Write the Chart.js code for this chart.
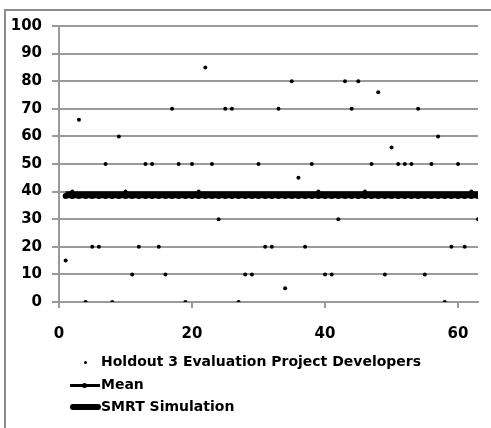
<!DOCTYPE html>
<html>
<head>
<meta charset="utf-8">
<script src="https://cdn.jsdelivr.net/npm/chart.js@4.4.1/dist/chart.umd.min.js"></script>
<style>
  html, body { margin: 0; padding: 0; background: #fff; }
  #wrap { position: relative; width: 491px; height: 428px; overflow: hidden; }
  #frame { position: absolute; left: 4px; top: 9px; width: 500px; height: 440px;
           border-left: 2px solid #8c8c8c; border-top: 2px solid #8c8c8c; }
  #chart { position: absolute; left: 0; top: 0; }
  #legend { position: absolute; left: 0; top: 0; font: bold 14px "DejaVu Sans"; color: #000; }
  .row { position: absolute; left: 68px; height: 20px; width: 400px; }
  .row span.txt { position: absolute; left: 33px; top: 1px; white-space: nowrap; }
  .sym { position: absolute; background: #000; }
</style>
</head>
<body>
<div id="wrap">
  <div id="frame"></div>
  <canvas id="chart" width="491" height="428"></canvas>
  <div id="legend">
    <div class="row" style="top:352px">
      <div class="sym" style="left:16px;top:9px;width:3px;height:3px;border-radius:2px"></div>
      <span class="txt">Holdout 3 Evaluation Project Developers</span>
    </div>
    <div class="row" style="top:375px">
      <div class="sym" style="left:2px;top:9px;width:30px;height:3px"></div>
      <div class="sym" style="left:14px;top:8px;width:5px;height:5px;border-radius:3px"></div>
      <span class="txt">Mean</span>
    </div>
    <div class="row" style="top:397px">
      <div class="sym" style="left:2px;top:7px;width:31px;height:6px;border-radius:3px"></div>
      <span class="txt">SMRT Simulation</span>
    </div>
  </div>
</div>
<script>
// developer number on the x axis
const developerIds = [1, 2, 3, 4, 5, 6, 7, 8, 9, 10, 11, 12, 13, 14, 15, 16, 17, 18, 19, 20,
    21, 22, 23, 24, 25, 26, 27, 28, 29, 30, 31, 32, 33, 34, 35, 36, 37, 38, 39, 40,
    41, 42, 43, 44, 45, 46, 47, 48, 49, 50, 51, 52, 53, 54, 55, 56, 57, 58, 59, 60,
    61, 62, 63];

// Holdout 3 evaluation, one value per developer
const holdoutValues = [15, 40, 66, 0, 20, 20, 50, 0, 60, 40, 10, 20, 50, 50, 20, 10, 70, 50, 0, 50,
    40, 85, 50, 30, 70, 70, 0, 10, 10, 50, 20, 20, 70, 5, 80, 45, 20, 50, 40, 10,
    10, 30, 80, 70, 80, 40, 50, 76, 10, 56, 50, 50, 50, 70, 10, 50, 60, 0, 20, 50,
    20, 40, 30];

const meanValues = [38.4, 38.4, 38.4, 38.4, 38.4, 38.4, 38.4, 38.4, 38.4, 38.4, 38.4, 38.4, 38.4, 38.4, 38.4, 38.4, 38.4, 38.4, 38.4, 38.4,
    38.4, 38.4, 38.4, 38.4, 38.4, 38.4, 38.4, 38.4, 38.4, 38.4, 38.4, 38.4, 38.4, 38.4, 38.4, 38.4, 38.4, 38.4, 38.4, 38.4,
    38.4, 38.4, 38.4, 38.4, 38.4, 38.4, 38.4, 38.4, 38.4, 38.4, 38.4, 38.4, 38.4, 38.4, 38.4, 38.4, 38.4, 38.4, 38.4, 38.4,
    38.4, 38.4, 38.4];

const smrtValues = [38.9, 38.9, 38.9, 38.9, 38.9, 38.9, 38.9, 38.9, 38.9, 38.9, 38.9, 38.9, 38.9, 38.9, 38.9, 38.9, 38.9, 38.9, 38.9, 38.9,
    38.9, 38.9, 38.9, 38.9, 38.9, 38.9, 38.9, 38.9, 38.9, 38.9, 38.9, 38.9, 38.9, 38.9, 38.9, 38.9, 38.9, 38.9, 38.9, 38.9,
    38.9, 38.9, 38.9, 38.9, 38.9, 38.9, 38.9, 38.9, 38.9, 38.9, 38.9, 38.9, 38.9, 38.9, 38.9, 38.9, 38.9, 38.9, 38.9, 38.9,
    38.9, 38.9, 38.9];

const xTickValues = [0, 20, 40, 60];
const seriesNames = ['Holdout 3 Evaluation Project Developers', 'Mean', 'SMRT Simulation'];

function toPoints(ys) {
    return developerIds.map((x, i) => ({ x: x, y: ys[i] }));
}

const gridColor = '#9a9a9a';
const tickFont = { family: '"DejaVu Sans"', size: 15, weight: 700 };

const ctx = document.getElementById('chart').getContext('2d');
new Chart(ctx, {
    type: 'scatter',
    data: {
        datasets: [
            {
                label: seriesNames[0],
                data: toPoints(holdoutValues),
                showLine: false,
                pointRadius: 2,
                pointBackgroundColor: '#000',
                pointBorderWidth: 0,
                order: 0
            },
            {
                label: seriesNames[2],
                data: toPoints(smrtValues),
                showLine: true,
                borderColor: '#000',
                borderWidth: 7,
                pointRadius: 0,
                order: 1
            },
            {
                label: seriesNames[1],
                data: toPoints(meanValues),
                showLine: true,
                borderColor: '#000',
                borderWidth: 2.5,
                pointRadius: 3,
                pointBackgroundColor: '#000',
                pointBorderWidth: 0,
                order: 2
            }
        ]
    },
    options: {
        responsive: false,
        animation: false,
        layout: { padding: { top: 26, right: 13, bottom: 70, left: 0 } },
        plugins: {
            legend: { display: false },
            tooltip: { enabled: false }
        },
        scales: {
            x: {
                type: 'linear',
                min: 0,
                max: 63,
                afterBuildTicks: scale => { scale.ticks = xTickValues.map(v => ({ value: v })); },
                afterFit: scale => { scale.height = 56; },
                grid: { drawOnChartArea: false, drawTicks: true, tickLength: 6, color: gridColor, lineWidth: 2 },
                border: { display: true, color: gridColor, width: 2 },
                ticks: { font: tickFont, color: '#000', padding: 17, maxRotation: 0 }
            },
            y: {
                min: 0,
                max: 100,
                afterFit: scale => { scale.width = 59; },
                grid: { color: gridColor, lineWidth: 2, tickLength: 7 },
                border: { display: true, color: gridColor, width: 2 },
                ticks: { stepSize: 10, font: tickFont, color: '#000', padding: 10 }
            }
        }
    }
});
</script>
</body>
</html>
